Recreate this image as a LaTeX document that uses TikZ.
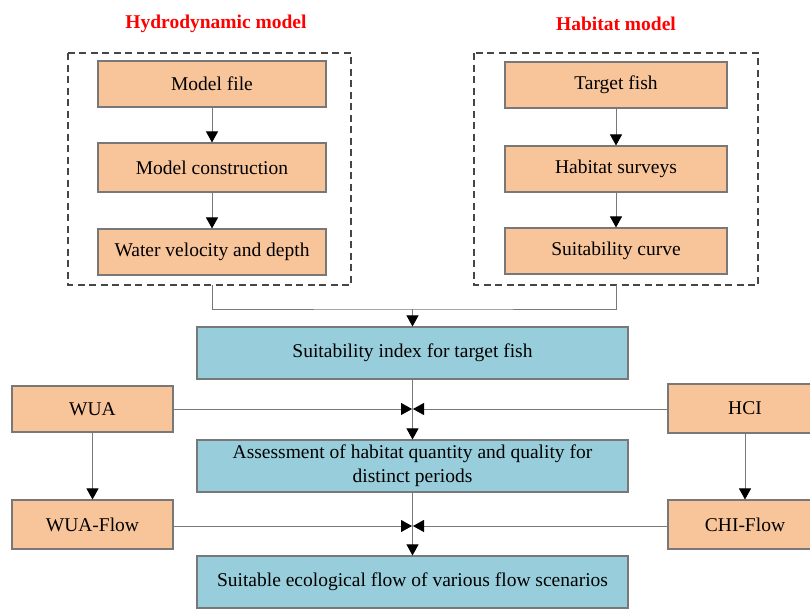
\documentclass[tikz,border=0pt]{standalone}
\usepackage{fontspec}
\setmainfont{Liberation Serif}
\usetikzlibrary{arrows.meta}
\definecolor{peach}{RGB}{248,196,154}
\definecolor{skyb}{RGB}{152,206,219}
\definecolor{edge}{RGB}{120,120,120}
\definecolor{dash}{RGB}{70,70,70}
\begin{document}
\begin{tikzpicture}[x=1pt,y=-1pt,
  every node/.style={font=\fontsize{19.5}{24}\selectfont, inner sep=0pt},
  obox/.style={draw=edge, line width=1.1pt, fill=peach, minimum width=#1},
  obox/.default=228pt,
  bbox/.style={draw=edge, line width=1.1pt, fill=skyb, minimum width=431pt, minimum height=52pt, align=center},
  grp/.style={draw=dash, line width=1.2pt, dash pattern=on 7pt off 4.5pt},
  conn/.style={draw=edge, line width=0.9pt},
  arr/.style={conn, -{Triangle[width=12pt,length=11pt,color=black]}},
  ttl/.style={text=red, font=\fontsize{19.5}{24}\selectfont\bfseries}
]
\useasboundingbox (0,0) rectangle (810,608);
\clip (0,0) rectangle (810,608);

% titles
\node[ttl] (t1) at (216,24) {Hydrodynamic model};
\node[ttl] (t2) at (616,24) {Habitat model};

% group frames
\draw[grp] (68,53) rectangle (351,285);
\draw[grp] (474,53) rectangle (758,285);

% left column
\node[obox, minimum height=46pt] (mf) at (212,84) {Model file};
\node[obox, minimum height=49pt] (mc) at (212,167.5) {Model construction};
\node[obox, minimum height=46pt] (wv) at (212,252) {Water velocity and depth};

% right column
\node[obox=222pt, minimum height=46pt] (tf) at (616,85) {Target fish};
\node[obox=222pt, minimum height=46pt] (hs) at (616,169) {Habitat surveys};
\node[obox=222pt, minimum height=46pt] (sc) at (616,251) {Suitability curve};

% blue boxes
\node[bbox] (si) at (412.5,353) {Suitability index for target fish};
\node[bbox] (as) at (412.5,466) {Assessment of habitat quantity and quality for\\distinct periods};
\node[bbox] (se) at (412.5,582) {Suitable ecological flow of various flow scenarios};

% side boxes
\node[obox=161pt, minimum height=46pt] (wua) at (92.5,409) {WUA};
\node[obox=161pt, minimum height=49pt] (wuaf) at (92.5,524.5) {WUA-Flow};
\node[obox=154pt, minimum height=49pt] (hci) at (745,408.5) {HCI};
\node[obox=154pt, minimum height=49pt] (chif) at (745,524.5) {CHI-Flow};

% connectors inside groups
\draw[arr] (mf) -- (mc);
\draw[arr] (mc) -- (wv);
\draw[arr] (tf) -- (hs);
\draw[arr] (hs) -- (sc);

% merge
\coordinate (m1) at (412.5,309);
\draw[conn] (212,285) |- (m1) -| (616,285);
\draw[arr] (m1) -- (si.north -| m1);

% vertical chain
\draw[arr] (si.south -| m1) -- (as.north -| m1);
\draw[arr] (as.south -| m1) -- (se.north -| m1);

% side arrows
\coordinate (c1l) at (412,409);
\coordinate (c1r) at (413,409);
\coordinate (c2l) at (412,526);
\coordinate (c2r) at (413,526);
\draw[arr] (wua.east |- c1l) -- (c1l);
\draw[arr] (hci.west |- c1r) -- (c1r);
\draw[arr] (wuaf.east |- c2l) -- (c2l);
\draw[arr] (chif.west |- c2r) -- (c2r);
\draw[arr] (wua) -- (wuaf);
\draw[arr] (hci) -- (chif);
\end{tikzpicture}
\end{document}
